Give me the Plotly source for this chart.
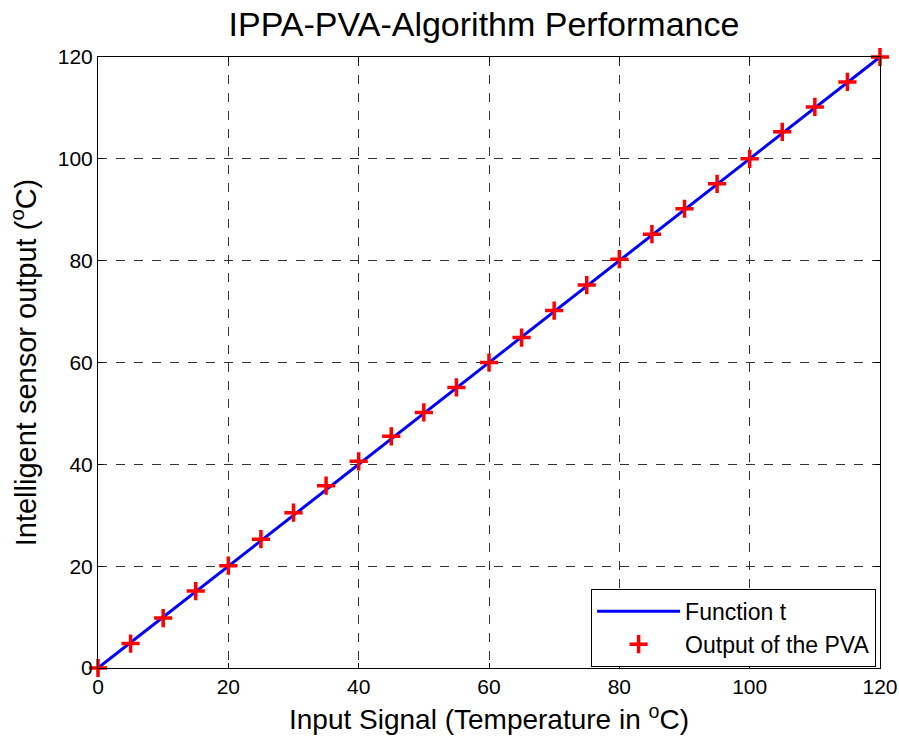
import plotly.graph_objects as go

x_line = [0, 120]
y_line = [0, 120]
x_pts = [0, 5, 10, 15, 20, 25, 30, 35, 40, 45, 50, 55, 60, 65, 70, 75, 80, 85, 90, 95, 100, 105, 110, 115, 120]
y_pts = [0, 4.8, 9.8, 15.1, 20.1, 25.3, 30.5, 35.8, 40.6, 45.5, 50.2, 55.1, 60.0, 64.9, 70.2, 75.2, 80.3, 85.2, 90.2, 95.1, 100.0, 105.3, 110.2, 115.1, 120.0]
ticks = [0, 20, 40, 60, 80, 100, 120]

FONT = "Liberation Sans, Arial, sans-serif"

fig = go.Figure()
fig.add_trace(go.Scatter(x=x_line, y=y_line, mode="lines", name="Function t",
                         legendgroup="a",
                         line=dict(color="#0000ff", width=3), cliponaxis=False))
fig.add_trace(go.Scatter(x=x_pts, y=y_pts, mode="markers", name="Output of the PVA",
                         legendgroup="b", cliponaxis=False,
                         marker=dict(symbol="cross-thin", size=13,
                                     line=dict(color="#ff0000", width=3.5), color="#ff0000")))

axis_common = dict(range=[0, 120], tickvals=ticks, ticks="inside", ticklen=5,
                   tickcolor="black", showline=True, linecolor="black", linewidth=1,
                   mirror="ticks", showgrid=True, gridcolor="#333333", griddash="dash",
                   gridwidth=1, zeroline=False, ticklabeloverflow="allow",
                   tickfont=dict(size=21, color="black", family=FONT))

fig.update_xaxes(**axis_common,
                 title=dict(text="Input Signal (Temperature in <sup>o</sup>C)",
                            font=dict(size=28, color="black", family=FONT), standoff=12))
fig.update_yaxes(**axis_common,
                 title=dict(text="Intelligent sensor output (<sup>o</sup>C)",
                            font=dict(size=29, color="black", family=FONT), standoff=12))

fig.update_layout(
    width=899, height=747,
    margin=dict(l=98, r=19, t=57, b=79, autoexpand=False),
    plot_bgcolor="white", paper_bgcolor="white",
    font=dict(family=FONT, color="black"),
    title=dict(text="IPPA-PVA-Algorithm Performance", x=484 / 899, xanchor="center",
               xref="container", yref="container", y=1, yanchor="top",
               pad=dict(t=12, b=0, l=0, r=0),
               font=dict(size=34, color="black", family=FONT)),
    legend=dict(x=0.995, xanchor="right", y=0.002, yanchor="bottom",
                bordercolor="black", borderwidth=1, bgcolor="white",
                font=dict(size=23, color="black", family=FONT),
                itemwidth=83, tracegroupgap=0),
    showlegend=True,
)

fig.write_html("out.html", config={"displayModeBar": False},
               post_script="document.body.style.margin='0';document.body.style.overflow='hidden';")
